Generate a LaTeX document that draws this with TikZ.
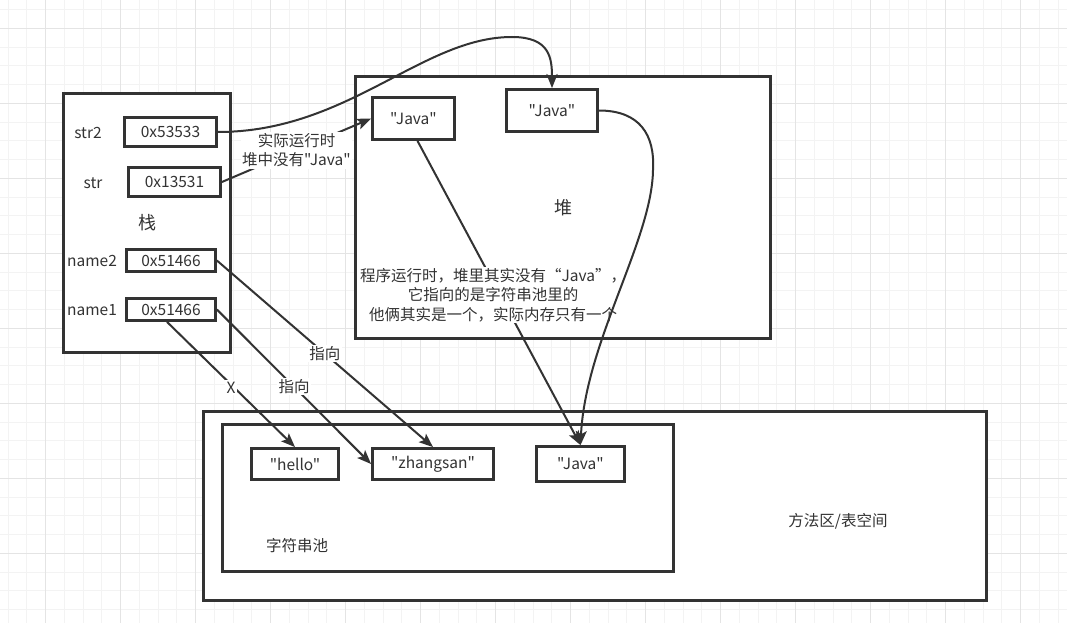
\documentclass[tikz,border=0pt]{standalone}
\usepackage{fontspec}
\setmainfont{Noto Sans CJK SC}[Ligatures=TeXOff]
\usepackage{tikz}
\usetikzlibrary{arrows.meta,positioning}
\definecolor{inkgray}{RGB}{51,51,51}
\definecolor{gridminor}{RGB}{243,243,243}
\definecolor{gridmajor}{RGB}{228,228,228}

\begin{document}
\begin{tikzpicture}[x=1pt, y=-1pt,
  every node/.style={text=inkgray, font=\fontsize{15.5}{19.5}\selectfont},
  region/.style={draw=inkgray, line width=3pt, fill=white, inner sep=0pt,
    font=\fontsize{18}{22}\selectfont},
  cell/.style={draw=inkgray, line width=2.8pt, fill=white, inner sep=0pt},
  pointer/.style={draw=inkgray, line width=2pt,
    -{Stealth[length=14pt, width=11pt, inset=3pt]}},
  tag/.style={fill=white, inner sep=1.5pt, align=center}]
\def\gstep{18.75}

% Canvas and grid
\useasboundingbox (0,0) rectangle (1067,623);
\fill[white] (0,0) rectangle (1067,623);
\foreach \i in {0,...,56}{
  \draw[gridminor, line width=1pt] ({8.2+\i*\gstep},0) -- ({8.2+\i*\gstep},623);
}
\foreach \j in {0,...,32}{
  \draw[gridminor, line width=1pt] (0,{9.6+\j*\gstep}) -- (1067,{9.6+\j*\gstep});
}
\foreach \k in {0,...,13}{
  \draw[gridmajor, line width=1pt] ({45.7+\k*75},0) -- ({45.7+\k*75},623);
}
\foreach \k in {0,...,7}{
  \draw[gridmajor, line width=1pt] (0,{28.3+\k*75}) -- (1067,{28.3+\k*75});
}

% Memory regions
\node[region, minimum width=167pt, minimum height=259pt] (stack) at (147,223) {栈};
\node[region, minimum width=415pt, minimum height=262pt] (heap) at (563,207.5) {堆};
\node[region, minimum width=783pt, minimum height=189pt] (methodarea) at (595,506) {};
\node[region, minimum width=451pt, minimum height=147pt] (pool) at (448,498) {};
\node (pooltitle) at (297,546) {字符串池};
\node (areatitle) at (838,521) {方法区/表空间};

% Stack variables
\node (varstr2) at (88,133) {str2};
\node (varstr) at (93,183) {str};
\node (varname2) at (92,261) {name2};
\node (varname1) at (92,310) {name1};
\node[cell, minimum width=92pt, minimum height=29pt] (addrstr2) at (170.5,132) {0x53533};
\node[cell, minimum width=92pt, minimum height=29pt] (addrstr) at (174.5,182) {0x13531};
\node[cell, minimum width=89pt, minimum height=22pt] (addrname2) at (171,260.5) {0x51466};
\node[cell, minimum width=89pt, minimum height=22pt] (addrname1) at (171,309.5) {0x51466};

% Heap objects
\node[cell, minimum width=82pt, minimum height=42pt] (heapjava) at (413.5,118.5) {"Java"};
\node[cell, minimum width=91pt, minimum height=42pt] (heapjava2) at (552,110.5) {"Java"};

% String pool
\node[cell, minimum width=87pt, minimum height=31pt] (poolhello) at (295,464) {"hello"};
\node[cell, minimum width=121pt, minimum height=31pt] (poolzhang) at (433,464) {"zhangsan"};
\node[cell, minimum width=88pt, minimum height=35pt] (pooljava) at (580.5,464) {"Java"};

% References
\coordinate (crest) at (512,37);
\coordinate (turn) at (653,170);
\draw[pointer] (addrstr2.east) .. controls +(130,0) and +(-90,0) .. (crest)
  .. controls +(38,0) and +(0,-30) .. (heapjava2.north);
\draw[pointer] (addrstr.east) -- node[tag] (note1) {实际运行时\\堆中没有"Java"} (heapjava.west);
\draw[pointer] (addrname2.east) -- node[tag] (note2) {指向} (poolzhang.north);
\draw[pointer] (addrname1.east) -- node[tag] (note3) {指向} (poolzhang.west);
\draw[pointer] ([xshift=-4pt]addrname1.south) -- node[tag, yshift=-3pt] (note4) {X} (poolhello.north);
\draw[pointer] ([xshift=4pt]heapjava.south) -- node[tag, xshift=-6pt, yshift=-2pt] (note5)
  {程序运行时，堆里其实没有“Java”，\\它指向的是字符串池里的\\他俩其实是一个，实际内存只有一个} (pooljava.north);
\draw[pointer] (heapjava2.east) .. controls +(41,0) and +(2,-35) .. (turn)
  .. controls +(-1,70) and +(5,-103) .. (pooljava.north);
\end{tikzpicture}
\end{document}
